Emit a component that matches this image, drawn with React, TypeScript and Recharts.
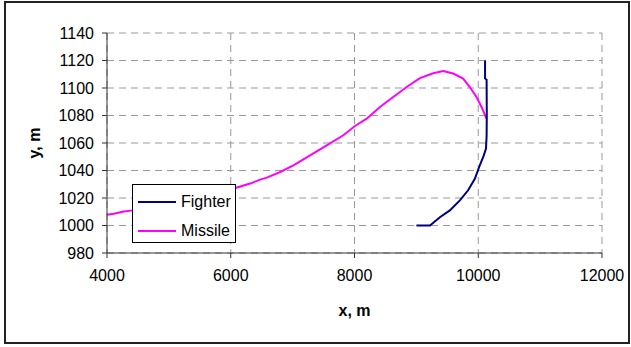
import { CartesianGrid, Label, Legend, Line, LineChart, XAxis, YAxis } from "recharts";

// trajectories (x in m, y in m)
const missileX = [
  4000, 4110, 4270, 4420, 4800, 5200, 5600, 6000, 6100, 6314, 6475, 6583, 6800, 7013, 7282, 7551,
  7820, 8008, 8197, 8412, 8626, 8843, 9057, 9272, 9433, 9594, 9756, 9864, 9972, 10053, 10133,
];
const missileY = [
  1007.8, 1008.6, 1010.2, 1011, 1014, 1017, 1021, 1026, 1027.6, 1030.5, 1033.4, 1034.8, 1038.9,
  1043.8, 1051, 1058.3, 1065.6, 1072.4, 1077.7, 1086.2, 1093.5, 1100.7, 1107.2, 1110.7, 1112.4,
  1110.5, 1106.8, 1100.7, 1093.5, 1086.2, 1077.7,
];
const fighterX = [
  9000, 9220, 9380, 9541, 9703, 9836, 9945, 10025, 10090, 10125, 10135, 10138, 10135, 10110, 10110,
];
const fighterY = [
  1000, 1000, 1006, 1011, 1018.3, 1025.6, 1034, 1043.8, 1051, 1056, 1065, 1080, 1106, 1107, 1120,
];

const seriesNames = ["Fighter", "Missile"];
const xTicks = [4000, 6000, 8000, 10000, 12000];
const yTicks = [980, 1000, 1020, 1040, 1060, 1080, 1100, 1120, 1140];

const missileData = missileX.map((x, i) => ({ x, y: missileY[i] }));
const fighterData = fighterX.map((x, i) => ({ x, y: fighterY[i] }));

const FONT = "'Liberation Sans', Arial, sans-serif";

function YTitle(props: any) {
  const { x, y, height } = props.viewBox;
  const bx = x + 40;
  const cy = y + height / 2;
  return (
    <text
      x={bx}
      y={cy}
      transform={`rotate(-90, ${bx}, ${cy})`}
      textAnchor="middle"
      fontSize={16}
      fontWeight="bold"
      fontFamily={FONT}
      fill="#000"
    >
      y, m
    </text>
  );
}

function XTitle(props: any) {
  const { x, y, width } = props.viewBox;
  return (
    <text
      x={x + width / 2}
      y={y + 63}
      textAnchor="middle"
      fontSize={16}
      fontWeight="bold"
      fontFamily={FONT}
      fill="#000"
    >
      x, m
    </text>
  );
}

function LegendBox(props: any) {
  const payload = props.payload || [];
  return (
    <div
      style={{
        boxSizing: "border-box",
        width: 104,
        height: 59,
        border: "1px solid #000",
        background: "#fff",
        fontFamily: FONT,
        fontSize: 16,
        color: "#000",
        paddingTop: 4,
      }}
    >
      {seriesNames.map((name) => {
        const item = payload.find((p: any) => p.value === name);
        return (
          <div key={name} style={{ display: "flex", alignItems: "center", height: 25, marginBottom: 4 }}>
            <svg width={48} height={10} style={{ display: "block" }}>
              <line x1={5} y1={5} x2={43} y2={5} stroke={item ? item.color : "#000"} strokeWidth={2} />
            </svg>
            <span style={{ lineHeight: "18px" }}>{name}</span>
          </div>
        );
      })}
    </div>
  );
}

export default function App() {
  return (
    <div style={{ position: "absolute", left: 0, top: 0, width: 631, height: 347, background: "#fff" }}>
      <div
        style={{
          position: "absolute",
          left: 4,
          top: 1,
          width: 626,
          height: 343,
          boxSizing: "border-box",
          border: "2px solid #222",
        }}
      />
      <div style={{ position: "absolute", left: 0, top: 0 }}>
        <LineChart
          width={631}
          height={347}
          margin={{ top: 33, right: 29, left: 0, bottom: 0 }}
          style={{ fontFamily: FONT }}
        >
          <CartesianGrid stroke="#999" strokeDasharray="7 5" />
          <XAxis
            type="number"
            dataKey="x"
            domain={[4000, 12000]}
            ticks={xTicks}
            allowDataOverflow
            height={94}
            stroke="#333"
            tickSize={5}
            tickMargin={12}
            tick={{ fill: "#000", fontSize: 16 }}
          >
            <Label content={XTitle} />
          </XAxis>
          <YAxis
            type="number"
            dataKey="y"
            domain={[980, 1140]}
            ticks={yTicks}
            allowDataOverflow
            width={107}
            stroke="#333"
            tickSize={5}
            tickMargin={8}
            tick={{ fill: "#000", fontSize: 16 }}
          >
            <Label content={YTitle} />
          </YAxis>
          <Line
            data={missileData}
            dataKey="y"
            name="Missile"
            type="linear"
            stroke="#ff00ff"
            strokeWidth={2}
            dot={false}
            activeDot={false}
            isAnimationActive={false}
          />
          <Line
            data={fighterData}
            dataKey="y"
            name="Fighter"
            type="linear"
            stroke="#000080"
            strokeWidth={2}
            dot={false}
            activeDot={false}
            isAnimationActive={false}
          />
          <Legend
            layout="horizontal"
            verticalAlign="middle"
            align="center"
            content={LegendBox}
            wrapperStyle={{ position: "absolute", left: 132, top: 184, width: 104, height: 59 }}
          />
        </LineChart>
      </div>
    </div>
  );
}
